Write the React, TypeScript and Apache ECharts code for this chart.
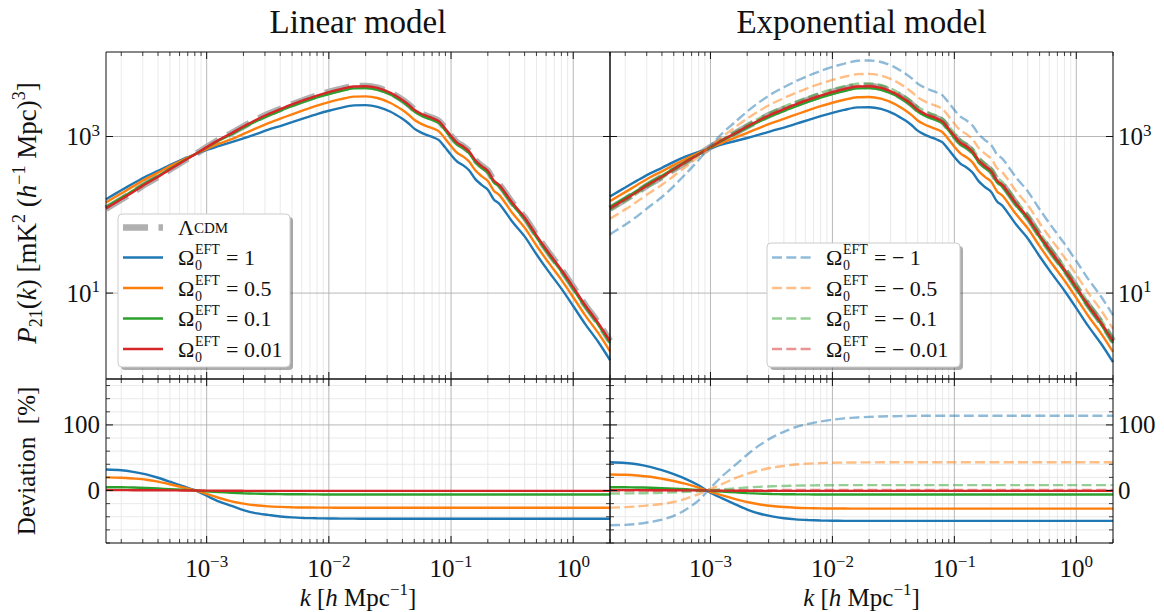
import React, { useEffect, useRef } from "react";
import * as echarts from "echarts";

const SERIF = "Liberation Serif, DejaVu Serif, serif";

// ---------------- data ----------------
// wavenumbers k [h Mpc^-1]
const K = [
  1.5e-4, 2e-4, 2.5e-4, 3.2e-4, 4e-4, 5e-4, 6.3e-4, 8e-4, 1e-3, 1.25e-3,
  1.6e-3, 2e-3, 2.5e-3, 3.2e-3, 4e-3, 5e-3, 6.3e-3, 8e-3, 0.01, 0.0125,
  0.016, 0.02, 0.025, 0.032, 0.04, 0.045, 0.05, 0.056, 0.063, 0.071,
  0.08, 0.089, 0.1, 0.112, 0.126, 0.141, 0.158, 0.178, 0.2, 0.224,
  0.25, 0.32, 0.4, 0.5, 0.63, 0.8, 1.0, 1.25, 1.6, 2.0,
];

// Lambda-CDM 21cm power spectrum [mK^2 (h^-1 Mpc)^3]
const P_LCDM = [
  120, 157, 195, 249, 304, 379, 473, 590, 733, 902,
  1109, 1349, 1622, 1950, 2249, 2582, 2951, 3350, 3715, 4060,
  4380, 4410, 4200, 3631, 2951, 2570, 2213, 1995, 1841, 1718,
  1567, 1288, 1023, 841, 750, 646, 501, 422, 367, 275,
  240, 141, 93, 55, 33, 20, 12, 7.1, 4.2, 2.45,
];

// Deviation from LCDM [%] - linear model
const DEV_LIN_1 = [
  32, 31, 28.5, 24.5, 19.5, 13.5, 7, 0.5, -8, -16.5,
  -23.5, -30, -34.5, -37.2, -39.5, -41, -41.8, -42.3, -42.6, -42.8,
  -42.9, -43, -43, -43, -43, -43, -43, -43, -43, -43,
  -43, -43, -43, -43, -43, -43, -43, -43, -43, -43,
  -43, -43, -43, -43, -43, -43, -43, -43, -43, -43,
];
const DEV_LIN_05 = [
  20, 19.5, 18.3, 16.5, 13.5, 9.5, 5, 0.3, -5, -11,
  -16.5, -20, -22.5, -24.2, -25, -25.6, -25.9, -26, -26.1, -26.2,
  -26.2, -26.2, -26.2, -26.2, -26.2, -26.2, -26.2, -26.2, -26.2, -26.2,
  -26.2, -26.2, -26.2, -26.2, -26.2, -26.2, -26.2, -26.2, -26.2, -26.2,
  -26.2, -26.2, -26.2, -26.2, -26.2, -26.2, -26.2, -26.2, -26.2, -26.2,
];
const DEV_LIN_01 = [
  5, 4.9, 4.5, 3.8, 3, 2.1, 1.1, 0, -1.2, -2.3,
  -3.3, -4.1, -4.8, -5.2, -5.5, -5.7, -5.8, -5.9, -6, -6,
  -6, -6, -6, -6, -6, -6, -6, -6, -6, -6,
  -6, -6, -6, -6, -6, -6, -6, -6, -6, -6,
  -6, -6, -6, -6, -6, -6, -6, -6, -6, -6,
];
const DEV_LIN_001 = [
  0.6, 0.6, 0.5, 0.45, 0.35, 0.25, 0.1, 0, -0.1, -0.25,
  -0.35, -0.45, -0.5, -0.55, -0.6, -0.6, -0.6, -0.6, -0.6, -0.6,
  -0.6, -0.6, -0.6, -0.6, -0.6, -0.6, -0.6, -0.6, -0.6, -0.6,
  -0.6, -0.6, -0.6, -0.6, -0.6, -0.6, -0.6, -0.6, -0.6, -0.6,
  -0.6, -0.6, -0.6, -0.6, -0.6, -0.6, -0.6, -0.6, -0.6, -0.6,
];

// Deviation from LCDM [%] - exponential model, positive Omega
const DEV_EXP_1 = [
  43, 42, 40, 36, 31, 25, 17.5, 8, -3.5, -12,
  -21, -29, -35, -39.5, -42.3, -44, -45, -45.7, -46, -46.2,
  -46.3, -46.3, -46.3, -46.3, -46.3, -46.3, -46.3, -46.3, -46.3, -46.3,
  -46.3, -46.3, -46.3, -46.3, -46.3, -46.3, -46.3, -46.3, -46.3, -46.3,
  -46.3, -46.3, -46.3, -46.3, -46.3, -46.3, -46.3, -46.3, -46.3, -46.3,
];
const DEV_EXP_05 = [
  24.5, 24, 23, 21, 18, 14.5, 10, 4.5, -2, -7.5,
  -13, -17.5, -21, -23.7, -25.2, -26.2, -26.8, -27.2, -27.4, -27.5,
  -27.6, -27.6, -27.6, -27.6, -27.6, -27.6, -27.6, -27.6, -27.6, -27.6,
  -27.6, -27.6, -27.6, -27.6, -27.6, -27.6, -27.6, -27.6, -27.6, -27.6,
  -27.6, -27.6, -27.6, -27.6, -27.6, -27.6, -27.6, -27.6, -27.6, -27.6,
];
const DEV_EXP_01 = [
  5, 4.9, 4.7, 4.3, 3.6, 2.8, 1.9, 0.8, -0.5, -1.7,
  -2.9, -3.9, -4.7, -5.25, -5.6, -5.8, -5.9, -6, -6, -6,
  -6, -6, -6, -6, -6, -6, -6, -6, -6, -6,
  -6, -6, -6, -6, -6, -6, -6, -6, -6, -6,
  -6, -6, -6, -6, -6, -6, -6, -6, -6, -6,
];
const DEV_EXP_001 = [
  0.6, 0.6, 0.55, 0.5, 0.4, 0.3, 0.2, 0.1, 0, -0.15,
  -0.3, -0.4, -0.5, -0.55, -0.6, -0.6, -0.6, -0.6, -0.6, -0.6,
  -0.6, -0.6, -0.6, -0.6, -0.6, -0.6, -0.6, -0.6, -0.6, -0.6,
  -0.6, -0.6, -0.6, -0.6, -0.6, -0.6, -0.6, -0.6, -0.6, -0.6,
  -0.6, -0.6, -0.6, -0.6, -0.6, -0.6, -0.6, -0.6, -0.6, -0.6,
];

// Deviation from LCDM [%] - exponential model, negative Omega (dashed)
const DEV_EXP_M1 = [
  -53, -52.3, -51, -48, -44.5, -38.5, -29, -15, 4, 22,
  39, 54.5, 68.5, 81, 89.5, 96.5, 101.5, 105.2, 108, 110,
  111.4, 112.3, 112.9, 113.3, 113.6, 113.8, 113.9, 114, 114, 114,
  114, 114, 114, 114, 114, 114, 114, 114, 114, 114,
  114, 114, 114, 114, 114, 114, 114, 114, 114, 114,
];
const DEV_EXP_M05 = [
  -26, -25.3, -24.2, -22.5, -20.5, -17.5, -12.5, -5.5, 2.5, 10,
  19, 25.5, 30.5, 35, 37.5, 39.6, 41, 41.8, 42.3, 42.6,
  42.8, 42.9, 43, 43, 43, 43, 43, 43, 43, 43,
  43, 43, 43, 43, 43, 43, 43, 43, 43, 43,
  43, 43, 43, 43, 43, 43, 43, 43, 43, 43,
];
const DEV_EXP_M01 = [
  -4.5, -4.4, -4.2, -3.9, -3.5, -2.9, -2, -0.9, 0.4, 1.8,
  3.3, 4.6, 5.6, 6.5, 7, 7.5, 7.8, 8, 8.1, 8.2,
  8.2, 8.2, 8.2, 8.2, 8.2, 8.2, 8.2, 8.2, 8.2, 8.2,
  8.2, 8.2, 8.2, 8.2, 8.2, 8.2, 8.2, 8.2, 8.2, 8.2,
  8.2, 8.2, 8.2, 8.2, 8.2, 8.2, 8.2, 8.2, 8.2, 8.2,
];
const DEV_EXP_M001 = [
  -0.5, -0.5, -0.45, -0.4, -0.35, -0.3, -0.2, -0.1, 0.05, 0.2,
  0.35, 0.45, 0.55, 0.65, 0.7, 0.75, 0.78, 0.8, 0.8, 0.8,
  0.8, 0.8, 0.8, 0.8, 0.8, 0.8, 0.8, 0.8, 0.8, 0.8,
  0.8, 0.8, 0.8, 0.8, 0.8, 0.8, 0.8, 0.8, 0.8, 0.8,
  0.8, 0.8, 0.8, 0.8, 0.8, 0.8, 0.8, 0.8, 0.8, 0.8,
];

// axes
const K_MIN = 1.5e-4;
const K_MAX = 2.0;
const P_MIN = 0.8;
const P_MAX = 12000;
const DEV_MIN = -80;
const DEV_MAX = 170;
const X_MAJOR = [1e-3, 1e-2, 1e-1, 1];
const X_MINOR = [
  2e-4, 3e-4, 4e-4, 5e-4, 6e-4, 7e-4, 8e-4, 9e-4,
  2e-3, 3e-3, 4e-3, 5e-3, 6e-3, 7e-3, 8e-3, 9e-3,
  0.02, 0.03, 0.04, 0.05, 0.06, 0.07, 0.08, 0.09,
  0.2, 0.3, 0.4, 0.5, 0.6, 0.7, 0.8, 0.9, 2,
];
const X_LABEL_EXP = [-3, -2, -1, 0];
const TOP_Y_MAJOR = [10, 1000];
const TOP_Y_LABEL_EXP = [1, 3];
const BOT_Y_MAJOR = [0, 100];
const BOT_Y_MINOR = [-80, -60, -40, -20, 20, 40, 60, 80, 120, 140, 160];

const LEFT_LEGEND_VALUES = ["1", "0.5", "0.1", "0.01"];
const RIGHT_LEGEND_VALUES = ["\u2212 1", "\u2212 0.5", "\u2212 0.1", "\u2212 0.01"];

// ---------------- styling ----------------
const BLUE = "#1f77b4";
const ORANGE = "#ff7f0e";
const GREEN = "#2ca02c";
const RED = "#d62728";
const GRAY = "#b0b0b0";
const MAJOR_GRID = "#b0b0b0";
const MINOR_GRID = "#e4e4e4";
const INK = "#111111";

const GRIDS = [
  { left: 106, top: 52, width: 504, height: 327 },
  { left: 610, top: 52, width: 503, height: 327 },
  { left: 106, top: 379, width: 504, height: 164 },
  { left: 610, top: 379, width: 503, height: 164 },
];

const tickRich = {
  b: { fontSize: 25, fontFamily: SERIF, color: INK, lineHeight: 30, verticalAlign: "middle" },
  s: { fontSize: 17, fontFamily: SERIF, color: INK, lineHeight: 17, verticalAlign: "top" },
};

const powLabel = (allowed: number[]) => (v: number) => {
  const e = Math.log10(v);
  const r = Math.round(e);
  if (Math.abs(e - r) > 1e-6 || allowed.indexOf(r) < 0) return "";
  const ex = r < 0 ? "\u2212" + -r : String(r);
  return `{b|10}{s|${ex}}`;
};

const devLabel = (v: number) => {
  if (Math.abs(v) < 1e-9) return "{b|0}";
  if (Math.abs(v - 100) < 1e-9) return "{b|100}";
  return "";
};

function decor(gi: number, isTop: boolean, layer: "back" | "front") {
  const yRef = isTop ? 10 : 0;
  const yMajor = isTop ? TOP_Y_MAJOR : BOT_Y_MAJOR;
  const yMinor = isTop ? [] : BOT_Y_MINOR;
  return {
    type: "custom",
    xAxisIndex: gi,
    yAxisIndex: gi,
    silent: true,
    clip: false,
    z: layer === "back" ? 1 : 30,
    data: [[0.01, yRef]],
    renderItem: (params: any, api: any) => {
      const cs = params.coordSys;
      const L = cs.x;
      const R = cs.x + cs.width;
      const T = cs.y;
      const B = cs.y + cs.height;
      const px = (k: number) => api.coord([k, yRef])[0];
      const py = (v: number) => api.coord([0.01, v])[1];
      const ch: any[] = [];
      const ln = (x1: number, y1: number, x2: number, y2: number, stroke: string, w: number) =>
        ch.push({ type: "line", shape: { x1, y1, x2, y2 }, style: { stroke, lineWidth: w } });
      if (layer === "back") {
        X_MINOR.forEach((k) => { const x = px(k); ln(x, T, x, B, MINOR_GRID, 0.8); });
        yMinor.forEach((v) => { const y = py(v); ln(L, y, R, y, MINOR_GRID, 0.8); });
        X_MAJOR.forEach((k) => { const x = px(k); ln(x, T, x, B, MAJOR_GRID, 0.9); });
        yMajor.forEach((v) => { const y = py(v); ln(L, y, R, y, MAJOR_GRID, 0.9); });
      } else {
        const MJ = 7;
        const MN = 4;
        X_MINOR.forEach((k) => {
          const x = px(k);
          ln(x, B, x, B - MN, INK, 0.8);
          ln(x, T, x, T + MN, INK, 0.8);
        });
        X_MAJOR.forEach((k) => {
          const x = px(k);
          ln(x, B, x, B - MJ, INK, 1);
          ln(x, T, x, T + MJ, INK, 1);
        });
        yMinor.forEach((v) => {
          const y = py(v);
          ln(L, y, L + MN, y, INK, 0.8);
          ln(R, y, R - MN, y, INK, 0.8);
        });
        yMajor.forEach((v) => {
          const y = py(v);
          ln(L, y, L + MJ, y, INK, 1);
          ln(R, y, R - MJ, y, INK, 1);
        });
        ch.push({
          type: "rect",
          shape: { x: L, y: T, width: R - L, height: B - T },
          style: { fill: "none", stroke: INK, lineWidth: 1 },
        });
      }
      return { type: "group", children: ch };
    },
  };
}

const topCurve = (dev: number[]) => K.map((k, i) => [k, P_LCDM[i] * (1 + dev[i] / 100)]);
const devCurve = (dev: number[]) => K.map((k, i) => [k, dev[i]]);
const lcdmCurve = () => K.map((k, i) => [k, P_LCDM[i]]);

function line(gi: number, data: number[][], color: string, kind: "solid" | "dashed" | "lcdm", z = 5) {
  let lineStyle: any;
  if (kind === "solid") lineStyle = { color, width: 2.4, type: "solid" };
  else if (kind === "dashed") lineStyle = { color, width: 2.4, type: [10, 4.3], opacity: 0.5 };
  else lineStyle = { color, width: 6.5, type: [25, 10.5], cap: "butt" };
  return {
    type: "line",
    xAxisIndex: gi,
    yAxisIndex: gi,
    data,
    symbol: "none",
    showSymbol: false,
    smooth: 0.3,
    silent: true,
    z,
    lineStyle,
    emphasis: { disabled: true },
  };
}

// ---------------- graphic helpers (titles, axis names, legends) ----------------
const mkRich = (base: number, small: number) => ({
  r: { fontSize: base, fontFamily: SERIF, fill: INK, lineHeight: base + 8, verticalAlign: "middle" },
  i: { fontSize: base, fontFamily: SERIF, fontStyle: "italic", fill: INK, lineHeight: base + 8, verticalAlign: "middle" },
  sup: { fontSize: small, fontFamily: SERIF, fill: INK, lineHeight: small + 1, verticalAlign: "top" },
  sub: { fontSize: small, fontFamily: SERIF, fill: INK, lineHeight: small + 1, verticalAlign: "bottom" },
});
const nameRich = mkRich(25, 17);
const pRich = mkRich(27, 18);

function txt(x: number, y: number, text: string, size: number, o: any = {}) {
  const align = o.align || "left";
  return {
    type: "text",
    x,
    y,
    z: 100,
    silent: true,
    rotation: o.rotation || 0,
    style: {
      text,
      fontSize: size,
      fontFamily: SERIF,
      fontStyle: o.italic ? "italic" : "normal",
      fill: INK,
      align,
      verticalAlign: "middle",
      textAlign: align,
      textVerticalAlign: "middle",
      lineHeight: o.lineHeight,
      rich: o.rich,
    },
  };
}

function omega(x: number, y: number, value: string) {
  return [
    txt(x, y, "\u03A9", 22),
    txt(x + 17, y + 8, "0", 14, { lineHeight: 14 }),
    txt(x + 17, y - 8, "EFT", 14, { lineHeight: 14 }),
    txt(x + 48, y, "= " + value, 22),
  ];
}

function legendBox(x: number, y: number, w: number, h: number) {
  return [
    {
      type: "rect", z: 98, silent: true,
      shape: { x: x + 3, y: y + 3, width: w, height: h, r: 4 },
      style: { fill: "rgba(0,0,0,0.32)" },
    },
    {
      type: "rect", z: 99, silent: true,
      shape: { x, y, width: w, height: h, r: 4 },
      style: { fill: "#ffffff", stroke: "#cccccc", lineWidth: 1 },
    },
  ];
}

function sample(x1: number, x2: number, y: number, color: string, width: number, dash: any, opacity = 1) {
  return {
    type: "line", z: 100, silent: true,
    shape: { x1, y1: y, x2, y2: y },
    style: { stroke: color, lineWidth: width, lineDash: dash, opacity },
  };
}

function buildGraphic() {
  const g: any[] = [];
  // titles
  g.push(txt(358, 22, "Linear model", 33, { align: "center" }));
  g.push(txt(861.5, 22, "Exponential model", 33, { align: "center" }));
  // y names
  g.push(
    txt(27, 213, "{i|P}{sub|21}{r|(}{i|k}{r|) [mK}{sup|2}{r| (}{i|h}{sup|\u22121}{r| Mpc)}{sup|3}{r|]}", 27, {
      align: "center", rotation: Math.PI / 2, rich: pRich,
    })
  );
  g.push(txt(26, 461, "{r|Deviation  [%]}", 25, { align: "center", rotation: Math.PI / 2, rich: nameRich }));
  // x names
  const xName = "{i|k}{r| [}{i|h}{r| Mpc}{sup|\u22121}{r|]}";
  g.push(txt(358, 597, xName, 25, { align: "center", rich: nameRich }));
  g.push(txt(861.5, 597, xName, 25, { align: "center", rich: nameRich }));

  // left legend
  g.push(...legendBox(118, 214, 172, 153));
  const lrows = [227.5, 257.5, 288, 318.5, 349];
  g.push(sample(123, 163, lrows[0], GRAY, 6.5, [25, 10.5]));
  g.push(txt(178, lrows[0], "\u039B", 22));
  g.push(txt(194, lrows[0] + 0.5, "CDM", 15));
  const lcols = [BLUE, ORANGE, GREEN, RED];
  LEFT_LEGEND_VALUES.forEach((v, i) => {
    g.push(sample(123, 163, lrows[i + 1], lcols[i], 2.4, null));
    g.push(...omega(178, lrows[i + 1], v));
  });

  // right legend
  g.push(...legendBox(767, 243, 193, 124));
  const rrows = [257.5, 288, 318.5, 349];
  RIGHT_LEGEND_VALUES.forEach((v, i) => {
    g.push(sample(772, 812, rrows[i], lcols[i], 2.4, [10, 4.3], 0.5));
    g.push(...omega(826, rrows[i], v));
  });
  return g;
}

function buildOption() {
  const xAxis = GRIDS.map((_, i) => ({
    type: "log",
    logBase: 10,
    gridIndex: i,
    min: K_MIN,
    max: K_MAX,
    axisLine: { show: false },
    axisTick: { show: false },
    splitLine: { show: false },
    minorTick: { show: false },
    axisLabel:
      i >= 2
        ? { show: true, margin: 10, formatter: powLabel(X_LABEL_EXP), rich: tickRich, showMinLabel: false, showMaxLabel: false }
        : { show: false },
  }));
  const yAxis = GRIDS.map((_, i) => {
    const isTop = i < 2;
    const right = i % 2 === 1;
    return {
      type: isTop ? "log" : "value",
      logBase: 10,
      gridIndex: i,
      position: right ? "right" : "left",
      min: isTop ? P_MIN : DEV_MIN,
      max: isTop ? P_MAX : DEV_MAX,
      interval: isTop ? undefined : 20,
      axisLine: { show: false },
      axisTick: { show: false },
      splitLine: { show: false },
      minorTick: { show: false },
      axisLabel: {
        show: true,
        margin: right ? 5 : 6,
        formatter: isTop ? powLabel(TOP_Y_LABEL_EXP) : devLabel,
        rich: tickRich,
      },
    };
  });

  const series: any[] = [];
  GRIDS.forEach((_, i) => series.push(decor(i, i < 2, "back")));

  // top-left: linear model
  series.push(line(0, lcdmCurve(), GRAY, "lcdm", 4));
  series.push(line(0, topCurve(DEV_LIN_1), BLUE, "solid"));
  series.push(line(0, topCurve(DEV_LIN_05), ORANGE, "solid"));
  series.push(line(0, topCurve(DEV_LIN_01), GREEN, "solid"));
  series.push(line(0, topCurve(DEV_LIN_001), RED, "solid"));

  // top-right: exponential model
  series.push(line(1, lcdmCurve(), GRAY, "lcdm", 4));
  series.push(line(1, topCurve(DEV_EXP_1), BLUE, "solid"));
  series.push(line(1, topCurve(DEV_EXP_05), ORANGE, "solid"));
  series.push(line(1, topCurve(DEV_EXP_01), GREEN, "solid"));
  series.push(line(1, topCurve(DEV_EXP_001), RED, "solid"));
  series.push(line(1, topCurve(DEV_EXP_M1), BLUE, "dashed", 6));
  series.push(line(1, topCurve(DEV_EXP_M05), ORANGE, "dashed", 6));
  series.push(line(1, topCurve(DEV_EXP_M01), GREEN, "dashed", 6));
  series.push(line(1, topCurve(DEV_EXP_M001), RED, "dashed", 6));

  // bottom-left
  series.push(line(2, devCurve(DEV_LIN_1), BLUE, "solid"));
  series.push(line(2, devCurve(DEV_LIN_05), ORANGE, "solid"));
  series.push(line(2, devCurve(DEV_LIN_01), GREEN, "solid"));
  series.push(line(2, devCurve(DEV_LIN_001), RED, "solid"));

  // bottom-right
  series.push(line(3, devCurve(DEV_EXP_1), BLUE, "solid"));
  series.push(line(3, devCurve(DEV_EXP_05), ORANGE, "solid"));
  series.push(line(3, devCurve(DEV_EXP_01), GREEN, "solid"));
  series.push(line(3, devCurve(DEV_EXP_001), RED, "solid"));
  series.push(line(3, devCurve(DEV_EXP_M1), BLUE, "dashed", 6));
  series.push(line(3, devCurve(DEV_EXP_M05), ORANGE, "dashed", 6));
  series.push(line(3, devCurve(DEV_EXP_M01), GREEN, "dashed", 6));
  series.push(line(3, devCurve(DEV_EXP_M001), RED, "dashed", 6));

  GRIDS.forEach((_, i) => series.push(decor(i, i < 2, "front")));

  return {
    animation: false,
    backgroundColor: "#ffffff",
    textStyle: { fontFamily: SERIF },
    grid: GRIDS.map((g) => ({ ...g, containLabel: false, show: false })),
    xAxis,
    yAxis,
    series,
    graphic: buildGraphic(),
  };
}

export default function App() {
  const ref = useRef<HTMLDivElement>(null);
  useEffect(() => {
    document.body.style.margin = "0";
    const chart = echarts.init(ref.current as HTMLDivElement, undefined, { renderer: "svg" });
    chart.setOption(buildOption() as any);
    return () => chart.dispose();
  }, []);
  return <div ref={ref} style={{ width: 1164, height: 612 }} />;
}
